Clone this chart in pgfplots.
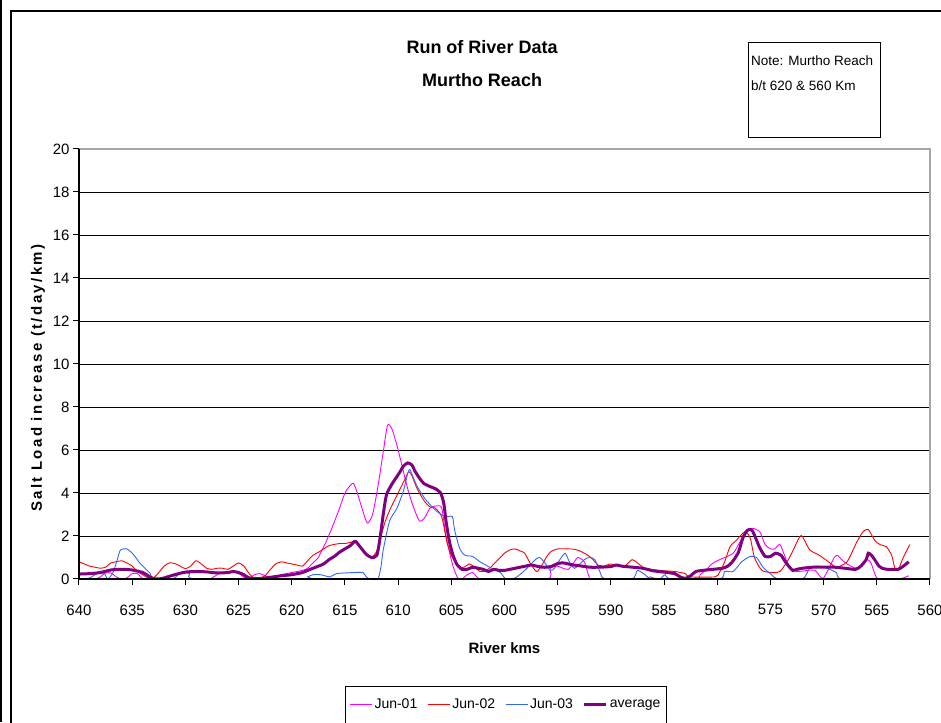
\documentclass[border=0pt]{standalone}
\usepackage{fontspec}
\setmainfont{Liberation Sans}
\usepackage{pgfplots}
\usepackage{pgfplotstable}
\pgfplotsset{compat=1.18}
\definecolor{jmag}{HTML}{FF00FF}
\definecolor{jred}{HTML}{FF0000}
\definecolor{jblue}{HTML}{3366FF}
\definecolor{javg}{HTML}{800080}

\pgfplotstableread{
x y
640 0
638.5 0.0
638 0.1
637.5 0.28
637 0.28
636.5 0.1
636 0.0
635.5 0.05
635 0.25
634.5 0.25
634 0.02
633 0
628 0
627.5 0.05
627 0.2
626.5 0.32
625.5 0.32
625 0.28
624.5 0.08
624 0.05
623.5 0.2
623 0.25
622.5 0.15
622 0.02
621.5 0.1
621 0.2
620 0.3
619 0.4
618.5 0.5
618 0.75
617.5 1.0
617.3 1.2
616.8 1.7
616.2 2.4
615.5 3.3
615 4.0
614.5 4.35
614.2 4.45
613.9 4.1
613.4 3.3
612.9 2.6
612.4 3.0
611.9 4.3
611.4 5.9
611.0 7.15
610.6 7.0
610.1 6.2
609.6 5.2
609.1 4.2
608.6 3.4
608.0 2.7
607.5 2.85
607.0 3.3
606.4 3.4
605.9 3.3
605.5 2.0
604.9 0.7
604.4 0.05
604.0 0
603.5 0.2
603 0.3
602.5 0.05
602 0
596 0
595.7 0.5
595 0.6
594.5 0.5
594 0.45
593.5 0.75
593.1 1.0
592.5 0.8
592.0 0.05
591.5 0
587 0
586.3 0.1
585.5 0
582 0
581.6 0.2
581 0.45
580.5 0.7
580 0.85
579.3 1.0
578.5 1.2
578 1.6
577.5 2.05
577 2.3
576.6 2.35
576 2.2
575.5 1.6
575.0 1.4
574.6 1.4
574.1 1.6
573.6 1.0
573.2 0.5
572.5 0.35
571.5 0.4
570.8 0.4
570.3 0.1
570 0.05
569.5 0.5
569 1.0
568.7 1.1
568.3 0.9
567.8 0.7
567 0.5
566.5 0.6
566 0.9
565.6 0.8
565.3 0.4
565 0.05
564.5 0
563 0
562.5 0.05
562 0.15
}\junone

\pgfplotstableread{
x y
640 0.8
639.5 0.7
639 0.6
638.5 0.55
638 0.5
637.5 0.55
637 0.75
636.5 0.8
636 0.85
635.5 0.75
635 0.6
634.5 0.35
634 0.2
633.5 0.05
633 0.05
632.5 0.3
632 0.6
631.5 0.75
631 0.72
630.5 0.6
630 0.48
629.5 0.6
629 0.85
628.5 0.7
628 0.5
627.5 0.45
627 0.5
626.5 0.5
626 0.45
625.5 0.6
625 0.75
624.5 0.6
624 0.25
623.5 0.02
623 0.05
622.5 0.15
622 0.45
621.5 0.7
621 0.8
620.5 0.75
620 0.7
619.5 0.65
619 0.6
618.5 0.85
618 1.1
617.3 1.3
616.5 1.55
615.5 1.65
615 1.65
614.5 1.7
614 1.75
613.5 1.45
613 1.15
612.5 1.0
612 1.3
611.6 2.0
611.2 2.7
610.7 3.3
610.3 3.7
609.8 4.2
609.3 4.7
609.0 5.0
608.7 4.8
608.3 4.3
608.0 4.0
607.5 3.6
607.0 3.35
606.5 3.3
606.0 3.0
605.8 2.7
605.4 1.7
605.0 1.1
604.5 0.7
604.2 0.55
603.8 0.55
603.3 0.7
602.8 0.55
602.3 0.35
602 0.35
601.4 0.5
601 0.7
600.4 1.0
600 1.2
599.5 1.35
599.0 1.4
598.5 1.3
598.1 1.2
597.6 0.75
597.0 0.35
596.6 0.55
596.2 0.9
595.7 1.25
595 1.4
594 1.4
593.4 1.38
592.9 1.3
592.5 1.2
592.0 1.05
591.5 0.8
591.2 0.65
590.6 0.6
590.1 0.7
589.5 0.65
588.7 0.6
588.0 0.9
587.5 0.75
586.8 0.5
585.4 0.4
584.0 0.35
583.0 0.25
582.6 0.1
580.2 0.1
579.8 0.3
579.3 0.8
578.8 1.5
578.2 1.8
577.4 2.2
576.9 1.9
576.5 1.0
575.8 0.4
574.8 0.3
574.1 0.35
573.2 1.0
572.2 2.0
571.8 1.8
571.3 1.35
570.4 1.1
569.4 0.75
568.8 0.55
567.8 0.8
566.9 1.7
566.3 2.2
565.8 2.3
565.2 1.8
564.7 1.6
564.1 1.5
563.6 1.1
563.3 0.5
563.0 0.4
562.6 0.9
561.9 1.6
}\juntwo

\pgfplotstableread{
x y
640 0
639 0.05
638.5 0.2
638 0.3
637.6 0.25
637.3 0.0
636.8 0.3
636.4 0.9
636.1 1.35
635.5 1.4
634.9 1.15
634.3 0.75
633.8 0.5
633.3 0.25
633.0 0
631.2 0
630.7 0.2
630.2 0.3
629.6 0.25
629.0 0
618.8 0
618.5 0.1
618 0.2
617.3 0.2
616.4 0.1
615.8 0.25
614.2 0.3
613.3 0.3
613.0 0.1
612.6 0
611.9 0
611.6 0.6
611.4 1.35
610.8 2.7
610.1 3.3
609.5 4.1
609.1 4.9
608.9 5.1
608.6 4.75
608.2 4.3
607.5 3.75
606.5 3.2
605.6 2.9
604.9 2.9
604.7 2.3
604.2 1.4
603.7 1.1
603.0 1.05
602.3 0.8
601.4 0.55
600.4 0.3
599.9 0.02
599.0 0.05
598.1 0.4
597.1 0.9
596.7 1.0
596.2 0.75
595.7 0.4
595.3 0.5
594.8 0.9
594.3 1.2
593.9 0.8
593.4 0.5
592.5 0.9
592.0 1.0
591.5 0.9
591.0 0.3
590.6 0.02
588.0 0
587.5 0.4
586.8 0.2
586.3 0
585.4 0
584.9 0.2
584.3 0
579.8 0
579.3 0.35
578.5 0.35
577.7 0.8
576.9 1.05
576.3 1.0
575.7 0.55
574.9 0.2
574.3 0
572.0 0
571.3 0.5
570.6 0.6
569.7 0.5
568.8 0.3
568.2 0
562 0
}\junthree

\pgfplotstableread{
x y
640 0.23
639 0.25
638 0.3
637 0.42
636 0.45
635 0.42
634 0.3
633.5 0.15
633 0.02
632.5 0.0
632 0.05
631 0.2
630 0.32
629 0.35
628 0.33
627 0.28
626 0.3
625.5 0.35
625 0.3
624.5 0.2
624 0.05
623 0.02
622 0.08
621 0.15
620 0.2
619 0.3
618.5 0.4
618 0.5
617 0.7
616.5 0.9
616 1.05
615.5 1.25
615 1.4
614.5 1.55
614.2 1.7
614 1.75
613.5 1.45
613 1.15
612.5 1.0
612 1.1
611.7 1.9
611.4 3.0
611.1 3.9
610.6 4.4
610.2 4.7
609.8 5.0
609.5 5.25
609.1 5.4
608.7 5.3
608.4 5.0
608 4.7
607.6 4.45
607 4.3
606.5 4.2
606 4.0
605.7 3.5
605.5 2.7
605.2 1.8
604.9 1.2
604.5 0.7
604 0.45
603.5 0.45
603 0.55
602.5 0.5
602 0.45
601.5 0.35
601 0.45
600.5 0.4
600 0.4
599.5 0.45
599 0.5
598.5 0.55
598 0.6
597.5 0.65
597 0.6
596.5 0.55
596 0.55
595.5 0.6
595 0.72
594.5 0.75
594 0.7
593.5 0.65
593 0.62
592 0.55
591 0.55
590 0.58
589.5 0.65
589 0.6
588 0.55
587 0.5
586 0.38
585 0.32
584 0.25
583.5 0.1
583 0.03
582.5 0.15
582 0.35
581 0.42
580 0.47
579.5 0.5
579 0.6
578.5 0.85
578 1.25
577.6 1.9
577.2 2.25
577 2.3
576.7 2.25
576.3 1.8
576 1.45
575.5 1.05
575 1.05
574.5 1.2
574 1.1
573.6 0.8
573.2 0.55
572.9 0.4
572.5 0.45
572 0.5
571 0.55
570 0.55
569 0.55
568 0.5
567 0.45
566.5 0.6
566 0.9
565.8 1.2
565.5 1.1
565.2 0.9
564.8 0.6
564.5 0.5
564 0.45
563 0.45
562.5 0.6
562 0.8
}\avgdata

\begin{document}
\begin{tikzpicture}[x=1pt,y=1pt]
\useasboundingbox (0,0) rectangle (941,722);
\begin{scope}
\clip (0,0) rectangle (941,722);
\draw[line width=2pt] (0.8,0) -- (0.8,722);
\draw[line width=1.4pt] (11,-5) -- (11,711) -- (960,711);
\end{scope}
\begin{axis}[
  at={(79pt,143pt)}, anchor=south west,
  scale only axis, width=851pt, height=430pt,
  x dir=reverse,
  xmin=560, xmax=640, ymin=0, ymax=20,
  xtick={560,565,...,640}, ytick={0,2,...,20},
  tick align=outside, xtick pos=bottom, ytick pos=left,
  major tick length=6pt,
  tick style={black, line width=1pt},
  ymajorgrids, grid style={black, line width=0.9pt},
  axis line style={draw=none},
  /pgf/number format/assume math mode=true,
  ticklabel style={font=\fontsize{15}{18}\selectfont},
  xticklabel style={yshift=-16pt},
  title={Run of River Data\\Murtho Reach},
  title style={font=\bfseries\fontsize{18}{33}\selectfont, align=center,
    at={(axis description cs:0.4736,1)}, anchor=center, yshift=79pt},
  xlabel={River kms},
  xlabel style={font=\bfseries\fontsize{15}{18}\selectfont,
    at={(axis description cs:0.5,-0.16)}, anchor=center},
  ylabel={\addfontfeature{LetterSpace=16}Salt Load increase (t/day/km)},
  ylabel style={font=\bfseries\fontsize{15}{18}\selectfont,
    at={(axis description cs:-0.0482,0.467)}, anchor=center},
  legend columns=4,
  legend style={at={(axis description cs:0.5018,-0.2488)}, anchor=north,
    draw=black, font=\fontsize{14}{16}\selectfont,
    inner xsep=4pt, inner ysep=11pt,
    /tikz/every even column/.append style={column sep=8pt}},
  after end axis/.code={
    \draw[gray!70, line width=1.2pt] (rel axis cs:0,1) -- (rel axis cs:1,1) -- (rel axis cs:1,0);
    \draw[black, line width=1.8pt] (rel axis cs:0,1) -- (rel axis cs:0,0) -- (rel axis cs:1,0);
  },
]
\addplot[draw=jmag, line width=0.9pt, smooth, tension=0.4,
  legend image code/.code={\draw[jmag, line width=1pt] (0pt,0pt) -- (22pt,0pt);}] table {\junone};
\addlegendentry{Jun-01}
\addplot[draw=jred, line width=0.9pt, smooth, tension=0.4,
  legend image code/.code={\draw[jred, line width=1pt] (0pt,0pt) -- (22pt,0pt);}] table {\juntwo};
\addlegendentry{Jun-02}
\addplot[draw=jblue, line width=0.9pt, smooth, tension=0.4,
  legend image code/.code={\draw[jblue, line width=1pt] (0pt,0pt) -- (22pt,0pt);}] table {\junthree};
\addlegendentry{Jun-03}
\addplot[draw=javg, line width=3pt, smooth, tension=0.4,
  legend image code/.code={\draw[javg, line width=3pt] (0pt,0pt) -- (22pt,0pt);}] table {\avgdata};
\addlegendentry{average}
\end{axis}
\draw[line width=1pt] (748,679) rectangle (880,584);
\node[anchor=north west, align=left, inner sep=0pt, font=\fontsize{13.5}{25}\selectfont] at (751,666) {Note: Murtho Reach\\b/t 620 \& 560 Km};
\end{tikzpicture}
\end{document}
